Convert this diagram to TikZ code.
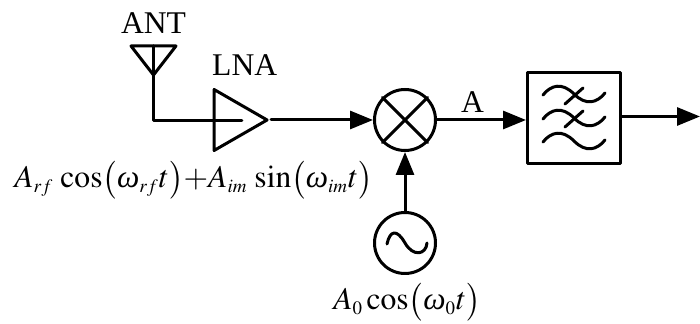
\documentclass[tikz,border=0pt]{standalone}
\usepackage{amsmath}
\usepackage{mathptmx}
\usepackage{fontspec}
\setmainfont{Liberation Serif}
\usetikzlibrary{positioning,arrows.meta,shapes.geometric}
\newcommand{\sub}[1]{_{\scriptscriptstyle #1}}
\newcommand{\om}{\mbox{\textit{ω}}}

\begin{document}
\begin{tikzpicture}[
  x=0.5pt, y=-0.5pt,
  font=\fontsize{15.8}{18}\selectfont,
  wire/.style={line width=1.5pt, line cap=round, line join=round},
  arr/.style={wire, -{Triangle[length=11.5pt, width=9pt]}},
  circ/.style={draw, wire, circle, minimum size=30.5pt, inner sep=0pt},
  amp/.style={draw, wire, isosceles triangle, isosceles triangle stretches, minimum width=30.5pt, minimum height=26.5pt, inner sep=0pt},
  filt/.style={draw, wire, minimum width=46.5pt, minimum height=45.5pt, inner sep=0pt},
  txt/.style={inner sep=0pt}
]
\useasboundingbox (0,0) rectangle (700,324);

\node[circ] (mixer) at (405,120) {};
\node[amp, left=51pt of mixer] (lna) {};
\node[filt, right=44.5pt of mixer, yshift=1pt] (filter) {};
\node[circ, below=29.5pt of mixer] (osc) {};

\coordinate (anttip) at (153.5,75);
\coordinate (anttop) at (153.5,46);
\coordinate (corner) at (153.5,121);
\coordinate (out) at (700,116.5);

% antenna
\draw[wire] (131,46) -- (176,46) -- (anttip) -- cycle;
\draw[wire] (anttop) -- (corner) -- (lna.left side |- corner);

\draw[arr] (lna.apex) -- (mixer);
\draw[arr] (mixer) -- (mixer -| filter.west);
\draw[arr] (filter.east |- out) -- (out);
\draw[arr] (osc) -- (mixer);

% mixer cross
\draw[wire] (mixer.45) -- (mixer.225);
\draw[wire] (mixer.135) -- (mixer.315);

% osc wave
\draw[wire] ([shift={(-18,1)}]osc.center) .. controls +(3,-14) and +(-8,-14) .. (osc.center)
  .. controls +(8,14) and +(-1,12) .. ([shift={(22,0)}]osc.center);

% filter waves
\foreach \dy in {-24,0,23} {
  \draw[wire] ([shift={(-31,\dy+1)}]filter.center) .. controls +(8,-10) and +(-12,-12) .. ([shift={(0,\dy)}]filter.center)
    .. controls +(12,12) and +(-8,10) .. ([shift={(31,\dy-1)}]filter.center);
}
\foreach \dy in {-23,0} {
  \draw[wire] ([shift={(-9,\dy+9)}]filter.center) -- ([shift={(9,\dy-7)}]filter.center);
}

\node[txt, above=6pt of anttop] (anttext) {ANT};
\node[txt, above=11pt of lna, xshift=6.5pt] (lnatext) {LNA};
\node[txt, anchor=base] (atext) at (472.5,113) {A};
\node[txt, anchor=base west] (rftext) at (14,188) {\medmuskip=0mu $A\sub{rf}\,\cos\bigl(\om\sub{rf}t\bigr)+A\sub{im}\,\sin\bigl(\om\sub{im}t\bigr)$};
\node[txt, anchor=base] (lotext) at (407,310) {$A\sub{0}\cos\bigl(\om\sub{0}t\bigr)$};
\end{tikzpicture}
\end{document}
